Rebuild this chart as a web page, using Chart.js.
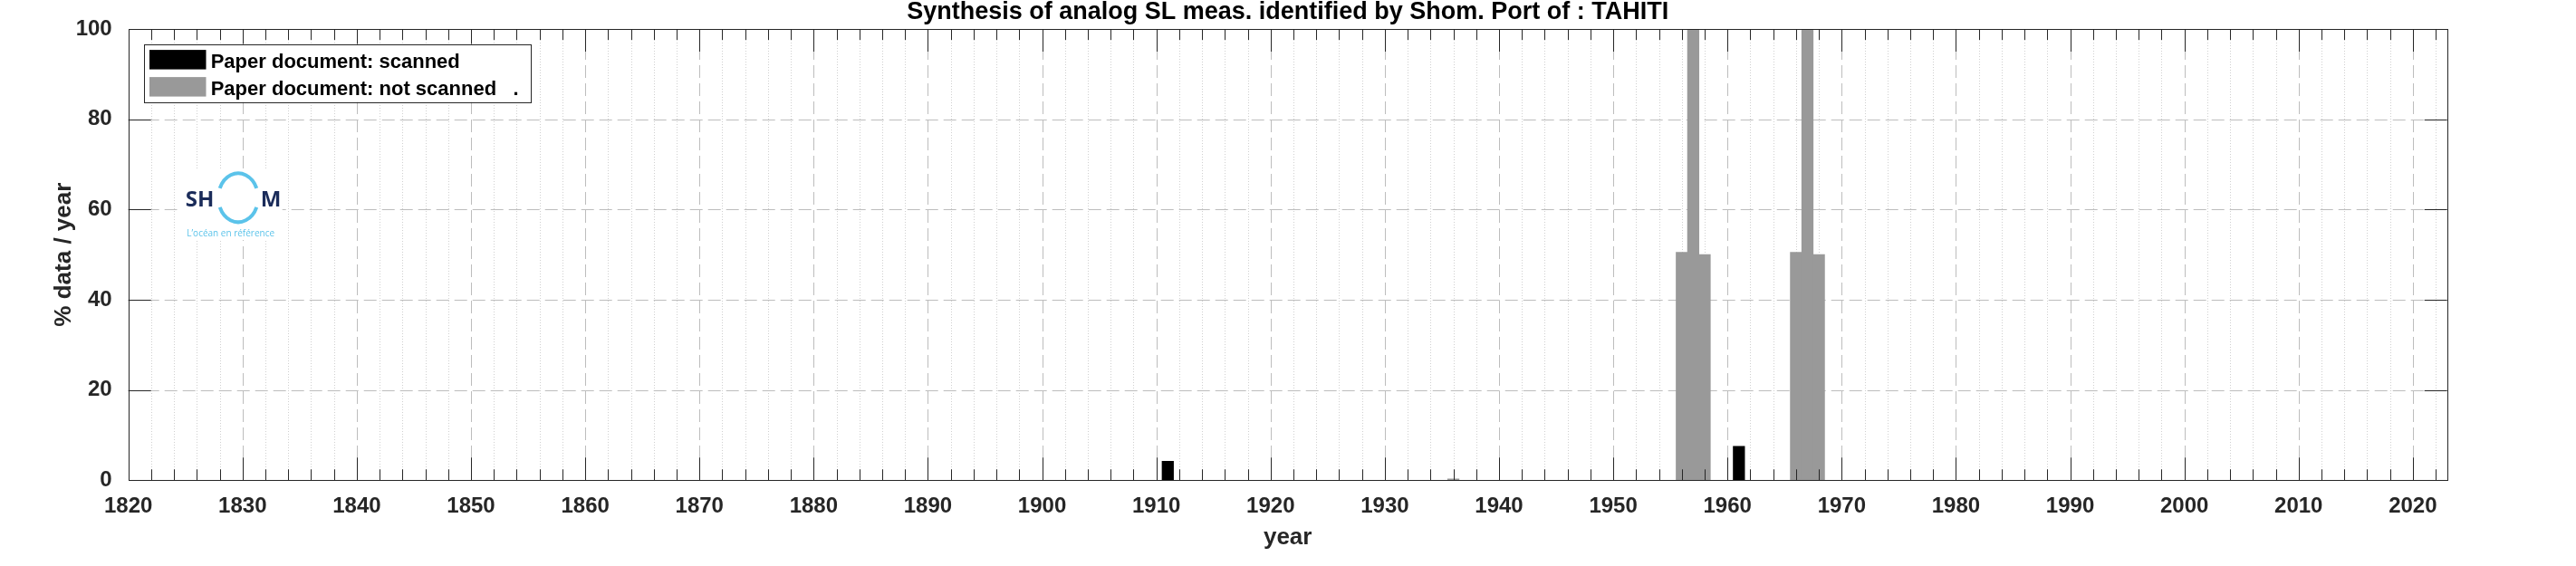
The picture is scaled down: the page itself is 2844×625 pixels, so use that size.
<!DOCTYPE html>
<html>
<head>
<meta charset="utf-8">
<title>Synthesis of analog SL meas. - TAHITI</title>
<script src="https://cdn.jsdelivr.net/npm/chart.js@4.4.1/dist/chart.umd.min.js"></script>
<style>
  html, body { margin: 0; padding: 0; background: #fff; }
  #chart { display: block; }
</style>
</head>
<body>
<canvas id="chart" width="2844" height="625"></canvas>
<script>
// years with paper documents and % of data per year
const scannedYears = [1911, 1961]
const scannedPct = [4.2, 7.5]
const notScannedYears = [1936, 1956, 1957, 1958, 1966, 1967, 1968]
const notScannedPct = [0.3, 50.5, 100, 50, 50.5, 100, 50]

// axis ranges / tick steps
const yearMin = 1820
const yearMax = 2023
const xTickStep = 10
const xMinorStep = 2
const pctMin = 0
const pctMax = 100
const yTickStep = 20

// texts
const titleText = 'Synthesis of analog SL meas. identified by Shom. Port of : TAHITI'
const xTitle = 'year'
const yTitle = '% data / year'
const scannedLabel = 'Paper document: scanned'
const notScannedLabel = 'Paper document: not scanned   .'
const logoTagline = 'L\u2019oc\u00e9an en r\u00e9f\u00e9rence'

const FONT = '"Liberation Sans", Arial, Helvetica, sans-serif'
const AXIS_COLOR = '#262626'

function line(ctx, x1, y1, x2, y2) {
  ctx.beginPath()
  ctx.moveTo(x1, y1)
  ctx.lineTo(x2, y2)
  ctx.stroke()
}

// shom logo on a white patch (covers the grid like in the original)
function drawLogo(ctx, left, top) {
  ctx.save()
  ctx.fillStyle = '#ffffff'
  ctx.fillRect(left, top, 116, 77)

  ctx.fillStyle = '#1b2c5a'
  ctx.font = 'bold 24px "Open Sans", ' + FONT
  ctx.textBaseline = 'alphabetic'
  ctx.textAlign = 'left'
  ctx.fillText('SH', left + 9, top + 39.5)
  ctx.fillText('M', left + 92, top + 39.5)

  // the "O" is a broken light blue ring
  ctx.strokeStyle = '#5bc3ea'
  ctx.lineWidth = 4
  const cx = left + 67.3
  const cy = top + 30.3
  ctx.beginPath()
  ctx.ellipse(cx, cy, 22, 27, 0, Math.PI + 0.4, 2 * Math.PI - 0.4)
  ctx.stroke()
  ctx.beginPath()
  ctx.ellipse(cx, cy, 22, 27, 0, 0.4, Math.PI - 0.4)
  ctx.stroke()

  ctx.fillStyle = '#5bc3ea'
  ctx.font = '10px "Open Sans", ' + FONT
  ctx.fillText(logoTagline, left + 10.5, top + 73)
  ctx.restore()
}

//________________________________________________________________________________
// grid: dotted minor lines every 2 years, dashed major lines, logo
const gridPlugin = {
  id: 'matlabGrid',
  beforeDatasetsDraw(chart) {
    const { ctx, chartArea: a } = chart
    const x = chart.scales.x
    const y = chart.scales.y
    ctx.save()
    ctx.lineWidth = 1

    ctx.strokeStyle = '#d0d0d0'
    ctx.setLineDash([1, 2])
    for (let v = yearMin + xMinorStep; v < yearMax; v += xMinorStep) {
      if (v % xTickStep === 0) continue
      const px = Math.round(x.getPixelForValue(v)) + 0.5
      line(ctx, px, a.top, px, a.bottom)
    }

    ctx.strokeStyle = '#bdbdbd'
    ctx.setLineDash([14, 6])
    x.ticks.forEach((t) => {
      if (t.value <= yearMin || t.value >= yearMax) return
      const px = Math.round(x.getPixelForValue(t.value)) + 0.5
      line(ctx, px, a.top, px, a.bottom)
    })
    y.ticks.forEach((t) => {
      if (t.value <= pctMin || t.value >= pctMax) return
      const py = Math.round(y.getPixelForValue(t.value)) + 0.5
      line(ctx, a.left, py, a.right, py)
    })
    ctx.restore()

    drawLogo(ctx, a.left + 54, a.top + 156)
  },
}

//________________________________________________________________________________
// box around the axes + inward ticks on all four sides
const axesPlugin = {
  id: 'matlabAxes',
  afterDatasetsDraw(chart) {
    const { ctx, chartArea: a } = chart
    const x = chart.scales.x
    const y = chart.scales.y
    ctx.save()
    ctx.lineWidth = 1
    ctx.strokeStyle = AXIS_COLOR

    for (let v = yearMin + xMinorStep; v < yearMax; v += xMinorStep) {
      const len = v % xTickStep === 0 ? 25 : 12
      const px = Math.round(x.getPixelForValue(v)) + 0.5
      line(ctx, px, a.bottom, px, a.bottom - len)
      line(ctx, px, a.top, px, a.top + len)
    }
    y.ticks.forEach((t) => {
      if (t.value <= pctMin || t.value >= pctMax) return
      const py = Math.round(y.getPixelForValue(t.value)) + 0.5
      line(ctx, a.left, py, a.left + 25, py)
      line(ctx, a.right, py, a.right - 25, py)
    })

    const l = Math.round(a.left) + 0.5
    const r = Math.round(a.right) + 0.5
    const tp = Math.round(a.top) + 0.5
    const b = Math.round(a.bottom) + 0.5
    ctx.strokeRect(l, tp, r - l, b - tp)
    ctx.restore()
  },
}

//________________________________________________________________________________
// legend inside the axes, upper left
const legendBoxPlugin = {
  id: 'legendBox',
  afterDraw(chart) {
    const { ctx, chartArea: a } = chart
    const left = a.left + 17.6
    const top = a.top + 16.6
    ctx.save()
    ctx.fillStyle = '#ffffff'
    ctx.fillRect(left, top, 427, 64)
    ctx.strokeStyle = AXIS_COLOR
    ctx.lineWidth = 1
    ctx.strokeRect(Math.round(left) + 0.5, Math.round(top) + 0.5, 427, 64)

    ctx.font = 'bold 22px ' + FONT
    ctx.textBaseline = 'alphabetic'
    ctx.textAlign = 'left'
    chart.data.datasets.forEach((ds, i) => {
      const rowTop = top + 6.5 + i * 30
      ctx.fillStyle = ds.backgroundColor
      ctx.fillRect(left + 5.7, rowTop, 62.5, 21.5)
      ctx.fillStyle = '#000000'
      ctx.fillText(ds.label, left + 73.4, rowTop + 20)
    })
    ctx.restore()
  },
}

function main() {
  const ctx = document.getElementById('chart').getContext('2d')
  const tickFont = { family: FONT, size: 24, weight: 'bold' }
  const titleFont = { family: FONT, size: 26, weight: 'bold' }

  new Chart(ctx, {
    type: 'bar',
    data: {
      datasets: [
        {
          label: scannedLabel,
          data: scannedYears.map((yr, i) => ({ x: yr, y: scannedPct[i] })),
          backgroundColor: '#000000',
          borderWidth: 0,
        },
        {
          label: notScannedLabel,
          data: notScannedYears.map((yr, i) => ({ x: yr, y: notScannedPct[i] })),
          backgroundColor: '#999999',
          borderWidth: 0,
        },
      ],
    },
    options: {
      responsive: false,
      animation: false,
      devicePixelRatio: 1,
      grouped: false,
      barPercentage: 1,
      categoryPercentage: 1,
      layout: { padding: { left: 0, right: 142.3, top: 0, bottom: 0 } },
      plugins: {
        legend: { display: false },
        tooltip: { enabled: false },
        title: {
          display: true,
          text: titleText,
          color: '#000000',
          fullSize: false,
          font: { family: FONT, size: 27, weight: 'bold', lineHeight: 1 },
          padding: { top: 0, bottom: 5 },
        },
      },
      scales: {
        x: {
          type: 'linear',
          min: yearMin,
          max: yearMax,
          offset: false,
          grid: { display: false, offset: false },
          border: { display: false },
          ticks: {
            stepSize: xTickStep,
            includeBounds: false,
            autoSkip: false,
            maxRotation: 0,
            padding: 7,
            color: AXIS_COLOR,
            font: tickFont,
            callback: (v) => String(v),
          },
          title: {
            display: true,
            text: xTitle,
            color: AXIS_COLOR,
            font: titleFont,
            padding: { top: 0, bottom: 16 },
          },
          afterFit(scale) {
            scale.height = 94.7
          },
        },
        y: {
          min: pctMin,
          max: pctMax,
          grid: { display: false },
          border: { display: false },
          ticks: {
            stepSize: yTickStep,
            padding: 10,
            color: AXIS_COLOR,
            font: tickFont,
          },
          title: {
            display: true,
            text: yTitle,
            color: AXIS_COLOR,
            font: titleFont,
            padding: { top: 55, bottom: 0 },
          },
          afterFit(scale) {
            scale.width = 141.7
          },
        },
      },
    },
    plugins: [gridPlugin, axesPlugin, legendBoxPlugin],
  })
}
main()
</script>
</body>
</html>
